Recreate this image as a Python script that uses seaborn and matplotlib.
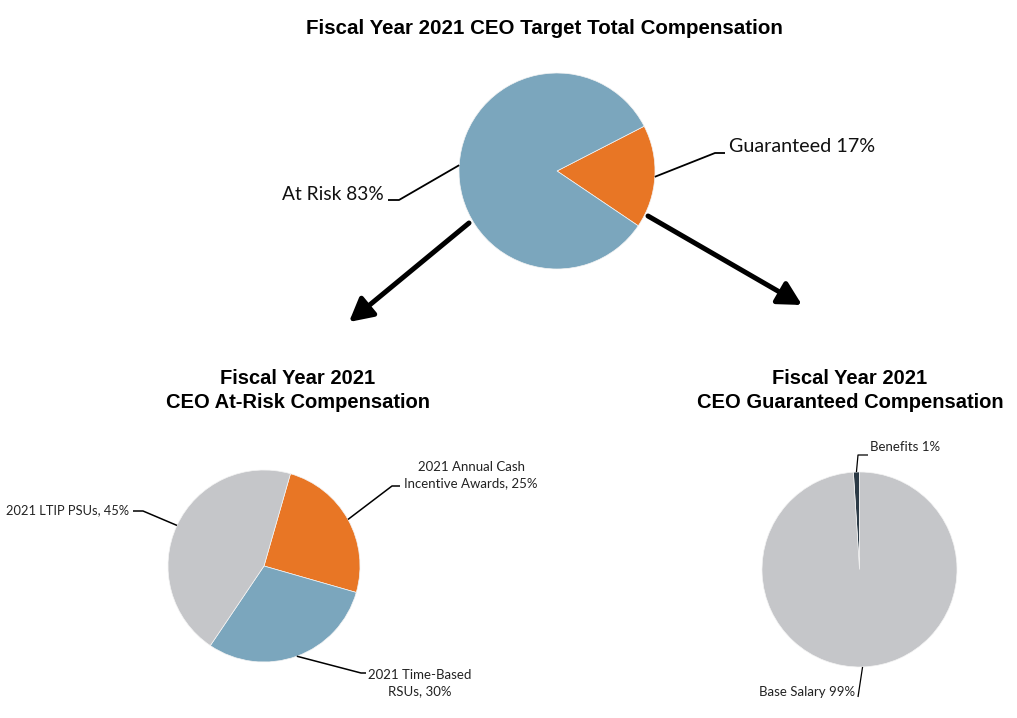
import numpy as np
import matplotlib
matplotlib.use("Agg")
import matplotlib.pyplot as plt
import seaborn as sns
from matplotlib.patches import FancyArrowPatch
from matplotlib.lines import Line2D

# ---------------- data ----------------
top_labels = ["Guaranteed 17%", "At Risk 83%"]
top_values = [17, 83]

risk_labels = ["2021 Annual Cash\nIncentive Awards, 25%", "2021 Time-Based\nRSUs, 30%", "2021 LTIP PSUs, 45%"]
risk_values = [25, 30, 45]

guar_labels = ["Benefits 1%", "Base Salary 99%"]
guar_values = [1, 99]

title_main = "Fiscal Year 2021 CEO Target Total Compensation"
title_risk = ["Fiscal Year 2021", "CEO At-Risk Compensation"]
title_guar = ["Fiscal Year 2021", "CEO Guaranteed Compensation"]

BLUE = "#7ba6bd"
ORANGE = "#e87625"
GRAY = "#c5c6c9"
DARK = "#2b3a46"

sns.set_theme(style="white")
plt.rcParams["font.family"] = ["Lato", "DejaVu Sans"]

W, H = 1017, 718
fig = plt.figure(figsize=(W / 100, H / 100), dpi=100)

# overlay axis in pixel coordinates for titles, leaders and arrows
ov = fig.add_axes([0, 0, 1, 1], zorder=5)
ov.set_xlim(0, W)
ov.set_ylim(H, 0)
ov.axis("off")
ov.patch.set_alpha(0)


def pie_axes(cx, cy, r):
    return fig.add_axes([(cx - r) / W, 1 - (cy + r) / H, 2 * r / W, 2 * r / H], zorder=1)


def draw_pie(cx, cy, r, values, colors, start, counterclock):
    ax = pie_axes(cx, cy, r)
    wedges, _ = ax.pie(values, colors=colors, startangle=start, counterclock=counterclock,
                       radius=1, wedgeprops=dict(linewidth=0.5, edgecolor="#f4f4f4"))
    ax.set_xlim(-1, 1)
    ax.set_ylim(-1, 1)
    ax.set_aspect("auto")
    ax.axis("off")
    anchors = []
    for w in wedges:
        mid = np.deg2rad((w.theta1 + w.theta2) / 2)
        anchors.append((cx + r * np.cos(mid), cy - r * np.sin(mid)))
    return anchors


def leader(points, lw=1.1):
    xs, ys = zip(*points)
    ov.add_line(Line2D(xs, ys, color="black", lw=lw, solid_capstyle="butt"))


def title2(cx, lines):
    ov.text(cx, 379, lines[0], fontsize=14.5, fontweight="bold", ha="center", va="center",
            family="Liberation Sans", color="black")
    ov.text(cx, 403, lines[1], fontsize=14.5, fontweight="bold", ha="center", va="center",
            family="Liberation Sans", color="black")


# ---- top pie ----
a_top = draw_pie(557, 171, 98, top_values, [ORANGE, BLUE], -34, True)
leader([a_top[0], (715, 153), (725, 153)], lw=1.3)
ov.text(729, 147, top_labels[0], fontsize=14.2, ha="left", va="center", color="#111111")
leader([a_top[1], (399, 200), (388, 200)], lw=1.3)
ov.text(384, 194, top_labels[1], fontsize=13.8, ha="right", va="center", color="#111111")

ov.text(544, 28, title_main, fontsize=14.8, fontweight="bold", ha="center", va="center",
        family="Liberation Sans", color="black")

# ---- arrows ----
for (x0, y0), (x1, y1) in [((469, 223), (349, 322)), ((648, 216), (802, 305))]:
    ov.add_patch(FancyArrowPatch((x0, y0), (x1, y1), arrowstyle="-|>,head_length=1.4,head_width=0.75",
                                 mutation_scale=10, lw=3.6, color="black", shrinkA=0, shrinkB=0))

# ---- bottom left pie ----
title2(298, title_risk)
a_r = draw_pie(264, 566, 96, risk_values, [ORANGE, BLUE, GRAY], 74, False)
leader([a_r[0], (392, 486), (400, 486)])
ov.text(471, 475, risk_labels[0], fontsize=9.5, ha="center", va="center", linespacing=1.45, color="#222222")
leader([a_r[1], (361, 673), (366, 673)])
ov.text(420, 683, risk_labels[1], fontsize=9.5, ha="center", va="center", linespacing=1.45, color="#222222")
leader([a_r[2], (143, 511), (133, 511)])
ov.text(129, 510, risk_labels[2], fontsize=9.3, ha="right", va="center", color="#222222")

# ---- bottom right pie ----
title2(850, title_guar)
a_g = draw_pie(859.5, 569.5, 97.5, guar_values, [DARK, GRAY], 90, True)
leader([a_g[0], (858, 455), (868, 455)], lw=0.9)
ov.text(870, 447, guar_labels[0], fontsize=9.5, ha="left", va="center", color="#222222")
leader([a_g[1], (858, 697)], lw=0.9)
ov.text(855, 692, guar_labels[1], fontsize=9.5, ha="right", va="center", color="#222222")

fig.savefig("out.png", dpi=100, facecolor="white")
